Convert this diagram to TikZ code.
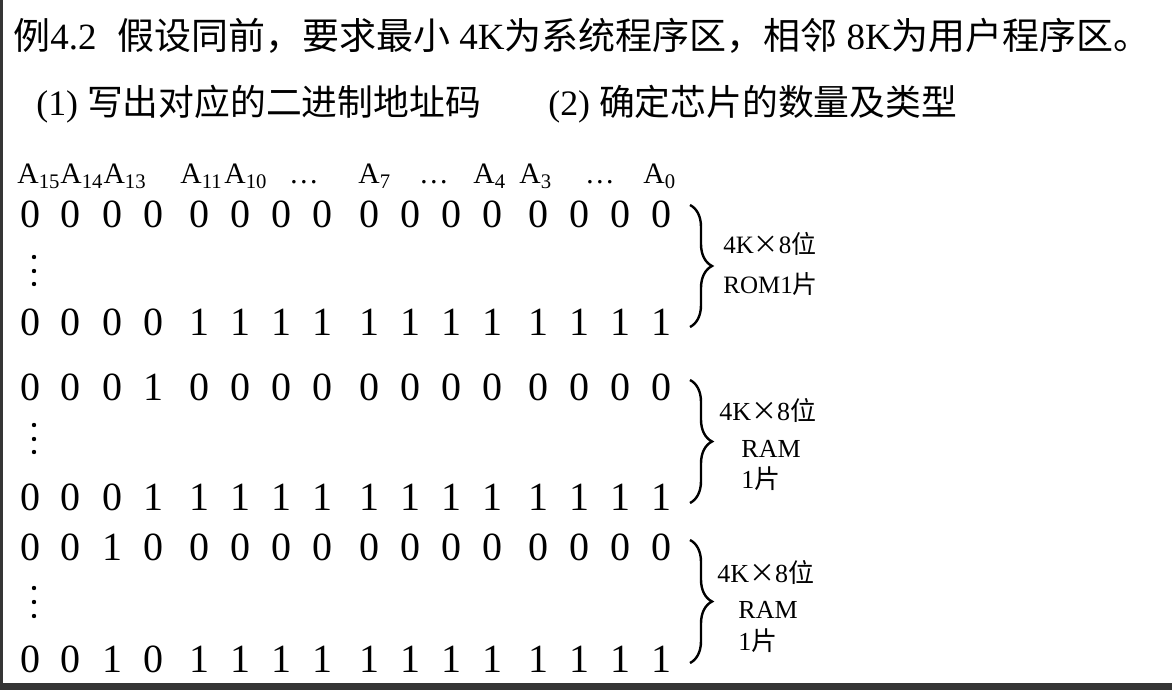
\documentclass[tikz,border=0pt]{standalone}
\usepackage{fontspec}
\setmainfont{Liberation Serif}
\newfontfamily\cjk{Noto Sans CJK SC}
\newcommand{\zh}[1]{{\cjk #1}}
\usetikzlibrary{positioning,decorations.pathreplacing}
\definecolor{edgegray}{HTML}{353535}

\begin{document}
\begin{tikzpicture}[x=0.5pt,y=-0.5pt,
	txt/.style={anchor=base west,inner sep=0pt},
	bit/.style={anchor=base,inner sep=0pt,font=\fontsize{20}{24}\selectfont},
	hdr/.style={anchor=base west,inner sep=0pt,font=\fontsize{14.8}{18}\selectfont},
	chip/.style={anchor=base west,inner sep=0pt,font=\fontsize{13}{16}\selectfont},
	brc/.style={decorate,decoration={brace,amplitude=11pt,aspect=0.5},line width=1.2pt}]

\useasboundingbox (0,0) rectangle (1172,690);
\fill[white] (0,0) rectangle (1172,690);
\fill[edgegray] (0,0) rectangle (3,690);% left edge
\fill[edgegray] (0,683) rectangle (1172,690);% bottom edge

%title lines
\node[txt,font=\fontsize{18.5}{22}\selectfont] (title) at (13,50)
{\zh{例}4.2\hspace{0.55em}\zh{假设同前，要求最小} 4K\zh{为系统程序区，相邻} 8K\zh{为用户程序区。}};
\node[txt,font=\fontsize{17.9}{22}\selectfont] (q1) at (36,116) {(1) \zh{写出对应的二进制地址码}};
\node[txt,font=\fontsize{17.9}{22}\selectfont] (q2) at (548,116) {(2) \zh{确定芯片的数量及类型}};

%address lines
\node[hdr] (a15) at (17,184) {A\textsubscript{15}A\textsubscript{14}A\textsubscript{13}};
\node[hdr] (a11) at (180,184) {A\textsubscript{11}};
\node[hdr] (a10) at (224,184) {A\textsubscript{10}};
\node[hdr,anchor=base] (e1) at (304,184) {\dots};
\node[hdr] (a7) at (358,184) {A\textsubscript{7}};
\node[hdr,anchor=base] (e2) at (434,184) {\dots};
\node[hdr] (a4) at (473,184) {A\textsubscript{4}};
\node[hdr] (a3) at (519,184) {A\textsubscript{3}};
\node[hdr,anchor=base] (e3) at (600,184) {\dots};
\node[hdr] (a0) at (643,184) {A\textsubscript{0}};

%ROM 4K
\foreach \d [count=\i from 0] in {0,0,0,0,0,0,0,0,0,0,0,0,0,0,0,0}
\node[bit] (r1-\i) at ({30+41*\i+5.5*int(\i/4)},227) {\d};
\foreach \d [count=\i from 0] in {0,0,0,0,1,1,1,1,1,1,1,1,1,1,1,1}
\node[bit] (r2-\i) at ({30+41*\i+5.5*int(\i/4)},335) {\d};
%RAM 4K
\foreach \d [count=\i from 0] in {0,0,0,1,0,0,0,0,0,0,0,0,0,0,0,0}
\node[bit] (r3-\i) at ({30+41*\i+5.5*int(\i/4)},400) {\d};
\foreach \d [count=\i from 0] in {0,0,0,1,1,1,1,1,1,1,1,1,1,1,1,1}
\node[bit] (r4-\i) at ({30+41*\i+5.5*int(\i/4)},510) {\d};
%RAM 4K
\foreach \d [count=\i from 0] in {0,0,1,0,0,0,0,0,0,0,0,0,0,0,0,0}
\node[bit] (r5-\i) at ({30+41*\i+5.5*int(\i/4)},560) {\d};
\foreach \d [count=\i from 0] in {0,0,1,0,1,1,1,1,1,1,1,1,1,1,1,1}
\node[bit] (r6-\i) at ({30+41*\i+5.5*int(\i/4)},672) {\d};

\foreach \y in {257,271,284,425,439,452,588,602,616}
\fill (34,\y) circle[radius=2.2];% vdots

%braces
\coordinate (b1t) at (690,205); \coordinate (b1b) at (690,327);
\coordinate (b2t) at (690,380); \coordinate (b2b) at (690,503);
\coordinate (b3t) at (690,540); \coordinate (b3b) at (690,663);
\draw[brc] (b1t) -- (b1b);
\draw[brc] (b2t) -- (b2b);
\draw[brc] (b3t) -- (b3b);

\node[chip,font=\fontsize{12.5}{15}\selectfont] (rom) at (723,253) {4K\zh{×}8\zh{位}};
\node[chip,font=\fontsize{12.5}{15}\selectfont] (rom1) at (723,293) {ROM1\zh{片}};
\node[chip] (ram) at (719,420) {4K\zh{×}8\zh{位}};
\node[chip] (ramA) at (741,457) {RAM};
\node[chip] (ramA1) at (741,488) {1\zh{片}};
\node[chip] (ramb) at (717,582) {4K\zh{×}8\zh{位}};
\node[chip] (ramB) at (738,618) {RAM};
\node[chip] (ramB1) at (738,650) {1\zh{片}};

\end{tikzpicture}
\end{document}
